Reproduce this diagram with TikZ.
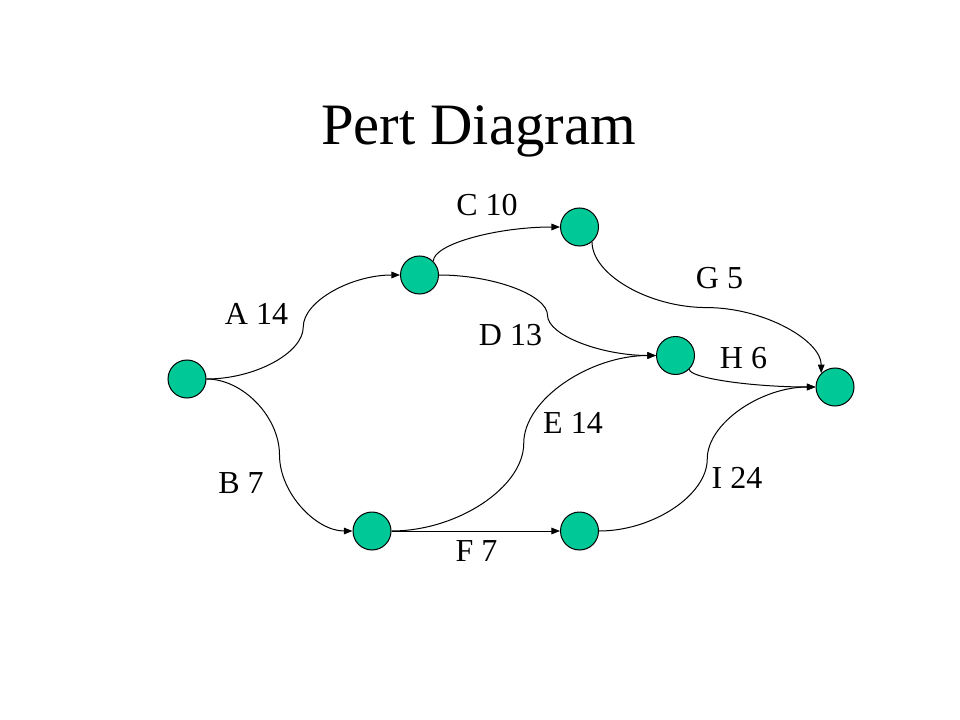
\documentclass[tikz,border=0pt]{standalone}
\usepackage{fontspec}
\setmainfont{Liberation Serif}
\usetikzlibrary{arrows.meta,calc}
\definecolor{nodegreen}{HTML}{00C896}
\tikzset{
  ev/.style={circle,draw=black,line width=0.75pt,fill=nodegreen,minimum size=28.5pt,inner sep=0pt},
  lbl/.style={font=\fontsize{24}{28}\selectfont,anchor=base,inner sep=0pt},
  ttl/.style={font=\fontsize{44}{52}\selectfont,anchor=base,inner sep=0pt},
  act/.style={line width=0.75pt,-{Triangle[length=6.5pt,width=5pt]}},
  hsh/.style={to path={let \p1=(\tikztostart),\p2=(\tikztotarget) in
     .. controls ({0.75*\x1+0.25*\x2},\y1) and ({0.5*\x1+0.5*\x2},{0.75*\y1+0.25*\y2})
     .. ({0.5*\x1+0.5*\x2},{0.5*\y1+0.5*\y2})
     .. controls ({0.5*\x1+0.5*\x2},{0.25*\y1+0.75*\y2}) and ({0.25*\x1+0.75*\x2},\y2)
     .. (\tikztotarget)}},
  vsh/.style={to path={let \p1=(\tikztostart),\p2=(\tikztotarget) in
     .. controls (\x1,{0.75*\y1+0.25*\y2}) and ({0.75*\x1+0.25*\x2},{0.5*\y1+0.5*\y2})
     .. ({0.5*\x1+0.5*\x2},{0.5*\y1+0.5*\y2})
     .. controls ({0.25*\x1+0.75*\x2},{0.5*\y1+0.5*\y2}) and (\x2,{0.25*\y1+0.75*\y2})
     .. (\tikztotarget)}},
  vhb/.style={to path={let \p1=(\tikztostart),\p2=(\tikztotarget) in
     .. controls (\x1,{0.5*\y1+0.5*\y2}) and ({0.5*\x1+0.5*\x2},\y2)
     .. (\tikztotarget)}}
}
\begin{document}
\begin{tikzpicture}[x=0.75pt,y=-0.75pt]
\useasboundingbox[fill=white] (0,0) rectangle (960,720);
\node[ttl] (title) at (478.5,145) {Pert Diagram};
\node[ev] (n1) at (187,379) {};
\node[ev] (n2) at (419.5,275) {};
\node[ev] (n3) at (579.5,227) {};
\node[ev] (n4) at (675.5,355.5) {};
\node[ev] (n5) at (835,387) {};
\node[ev] (n6) at (372,531) {};
\node[ev] (n7) at (579.5,531) {};
\draw[act] (n1.east) to[hsh] (n2.west);
\draw[act] (n1.east) to[hsh] (n6.west);
\draw[act] (n2.45) to[vhb] (n3.west);
\draw[act] (n2.east) to[hsh] (n4.west);
\draw[act] (n6.east) to[hsh] (n4.west);
\draw[act] (n6.east) -- (n7.west);
\draw[act] (n3.-50) to[vsh] (n5.135);
\draw[act] (n4.-45) to[vhb] (n5.west);
\draw[act] (n7.east) to[hsh] (n5.west);
\node[lbl] (lA) at (256.5,325) {A 14};
\node[lbl] (lB) at (241,493) {B 7};
\node[lbl] (lC) at (487,216) {C 10};
\node[lbl] (lD) at (510.5,345) {D 13};
\node[lbl] (lE) at (573,433) {E 14};
\node[lbl] (lF) at (476.5,561) {F 7};
\node[lbl] (lG) at (719.5,288) {G 5};
\node[lbl] (lH) at (743.5,368) {H 6};
\node[lbl] (lI) at (737,488) {I 24};
\end{tikzpicture}
\end{document}
